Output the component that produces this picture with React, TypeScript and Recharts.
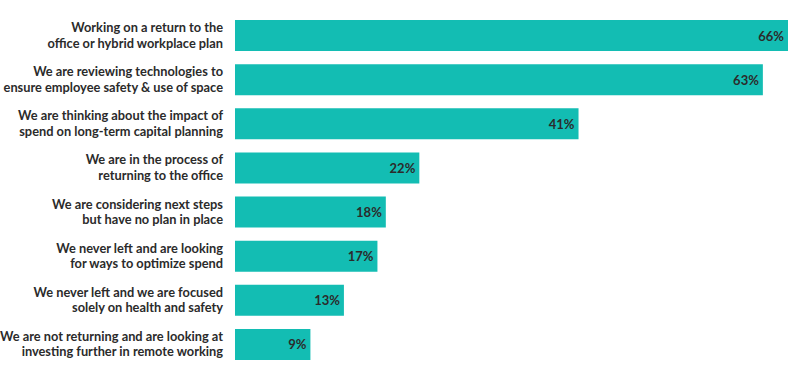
import React from "react";
import { BarChart, Bar, XAxis, YAxis, LabelList } from "recharts";

const categories = [
  "Working on a return to the|office or hybrid workplace plan",
  "We are reviewing technologies to|ensure employee safety & use of space",
  "We are thinking about the impact of|spend on long-term capital planning",
  "We are in the process of|returning to the office",
  "We are considering next steps|but have no plan in place",
  "We never left and are looking|for ways to optimize spend",
  "We never left and we are focused|solely on health and safety",
  "We are not returning and are looking at|investing further in remote working",
];
const values = [66, 63, 41, 22, 18, 17, 13, 9];

const data = categories.map((c, i) => ({ name: c, value: values[i] }));

const FONT = "Lato, 'Open Sans', sans-serif";
const TEXT = "#2b2b2b";

const Tick = (props: any) => {
  const { x, y, payload } = props;
  const lines = String(payload.value).split("|");
  return (
    <text x={x - 4} y={y} textAnchor="end" fontFamily={FONT} fontWeight={700} fontSize={12.8} fill={TEXT}>
      {lines.map((l, i) => (
        <tspan key={i} x={x - 4} dy={i === 0 ? -3 : 15.5}>
          {l}
        </tspan>
      ))}
    </text>
  );
};

const ValueLabel = (props: any) => {
  const { x, y, width, height, value } = props;
  return (
    <text
      x={x + width - 4}
      y={y + height / 2}
      dy={5}
      textAnchor="end"
      fontFamily={FONT}
      fontWeight={700}
      fontSize={13}
      fill={TEXT}
    >
      {value}%
    </text>
  );
};

export default function App() {
  return (
    <div style={{ position: "absolute", left: 0, top: 0, width: 800, height: 378, background: "#fff" }}>
      <BarChart
        width={800}
        height={378}
        data={data}
        layout="vertical"
        margin={{ top: 13, right: 12, bottom: 12, left: 0 }}
      >
        <XAxis type="number" domain={[0, 66]} hide />
        <YAxis
          type="category"
          dataKey="name"
          width={235}
          axisLine={false}
          tickLine={false}
          tick={<Tick />}
          interval={0}
        />
        <Bar dataKey="value" fill="#13BDB3" barSize={31} isAnimationActive={false}>
          <LabelList dataKey="value" content={<ValueLabel />} />
        </Bar>
      </BarChart>
    </div>
  );
}
